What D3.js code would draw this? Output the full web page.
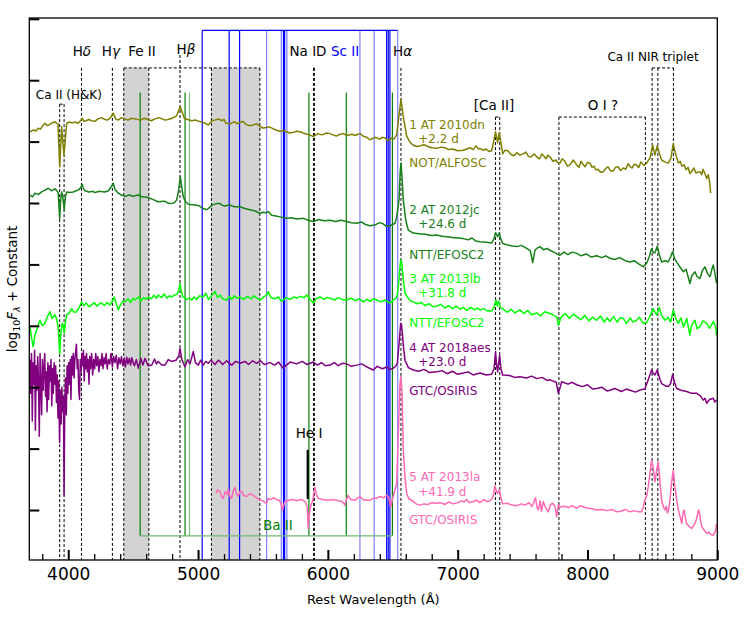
<!DOCTYPE html>
<html>
<head>
<meta charset="utf-8">
<script src="https://cdn.jsdelivr.net/npm/d3@7"></script>
<style>
  body { margin: 0; background: #fff; }
  svg text { font-family: "DejaVu Sans", sans-serif; }
</style>
</head>
<body>
<svg id="chart" width="747" height="623"></svg>
<script>

// spectra: [rest wavelength (A), log10 F + constant]
var spec_2010dn = [[3705,6.16],[3720,6.18],[3736,6.19],[3750,6.17],[3769,6.22],[3785,6.20],[3797,6.24],[3808,6.27],[3820,6.30],[3840,6.26],[3859,6.28],[3878,6.31],[3898,6.32],[3910,6.30],[3921,6.29],[3934,5.59],[3949,6.24],[3967,5.78],[3988,6.30],[4013,6.32],[4030,6.30],[4052,6.32],[4075,6.30],[4090,6.33],[4108,6.38],[4120,6.33],[4136,6.34],[4160,6.36],[4180,6.34],[4205,6.33],[4229,6.37],[4255,6.39],[4283,6.36],[4300,6.35],[4321,6.38],[4347,6.46],[4365,6.37],[4385,6.35],[4410,6.39],[4437,6.37],[4460,6.35],[4488,6.38],[4520,6.37],[4552,6.35],[4585,6.38],[4616,6.36],[4640,6.34],[4668,6.37],[4700,6.39],[4745,6.35],[4770,6.36],[4799,6.38],[4835,6.42],[4863,6.57],[4894,6.38],[4920,6.36],[4951,6.34],[4984,6.35],[5005,6.33],[5028,6.32],[5053,6.30],[5079,6.27],[5107,6.34],[5130,6.35],[5156,6.37],[5184,6.34],[5200,6.36],[5215,6.30],[5246,6.29],[5265,6.31],[5284,6.32],[5300,6.29],[5323,6.31],[5345,6.33],[5369,6.28],[5395,6.26],[5423,6.27],[5450,6.29],[5477,6.25],[5500,6.22],[5528,6.23],[5550,6.24],[5577,6.21],[5600,6.19],[5631,6.17],[5655,6.18],[5683,6.16],[5705,6.14],[5731,6.15],[5760,6.17],[5785,6.16],[5810,6.14],[5839,6.12],[5860,6.11],[5887,6.08],[5924,6.13],[5955,6.11],[5991,6.14],[6015,6.13],[6039,6.11],[6065,6.09],[6093,6.12],[6120,6.13],[6145,6.10],[6186,6.12],[6210,6.10],[6232,6.12],[6250,6.13],[6270,6.09],[6300,6.07],[6324,6.03],[6345,6.05],[6363,6.07],[6401,6.04],[6420,6.07],[6440,6.06],[6460,6.02],[6478,6.03],[6490,6.06],[6509,6.04],[6530,6.11],[6548,6.43],[6563,6.69],[6581,6.41],[6607,6.09],[6632,5.99],[6658,5.94],[6685,5.92],[6709,5.93],[6740,5.95],[6771,5.92],[6800,5.90],[6838,5.89],[6870,5.91],[6902,5.90],[6930,5.87],[6963,5.88],[7000,5.85],[7043,5.86],[7070,5.88],[7094,5.90],[7120,5.87],[7141,5.93],[7160,5.88],[7172,5.89],[7195,5.86],[7218,5.88],[7240,5.84],[7262,5.85],[7292,6.16],[7308,5.98],[7320,6.15],[7347,5.80],[7365,5.86],[7387,5.85],[7410,5.79],[7434,5.77],[7455,5.82],[7480,5.78],[7505,5.80],[7526,5.83],[7545,5.76],[7565,5.75],[7590,5.80],[7609,5.75],[7630,5.72],[7649,5.80],[7665,5.76],[7680,5.72],[7695,5.78],[7711,5.75],[7735,5.68],[7757,5.70],[7770,5.66],[7788,5.65],[7805,5.72],[7826,5.68],[7845,5.60],[7865,5.62],[7890,5.70],[7917,5.62],[7935,5.58],[7950,5.68],[7965,5.63],[7981,5.59],[8000,5.66],[8019,5.65],[8035,5.58],[8050,5.60],[8065,5.54],[8081,5.55],[8100,5.50],[8122,5.51],[8140,5.56],[8158,5.59],[8175,5.53],[8196,5.52],[8215,5.58],[8235,5.59],[8255,5.53],[8276,5.57],[8295,5.55],[8312,5.64],[8330,5.59],[8343,5.57],[8360,5.63],[8379,5.62],[8395,5.58],[8412,5.67],[8435,5.61],[8456,5.65],[8470,5.70],[8481,5.73],[8502,5.94],[8520,5.78],[8537,5.93],[8555,5.80],[8571,5.70],[8597,5.67],[8622,5.65],[8643,5.73],[8661,5.97],[8672,5.85],[8682,5.78],[8700,5.65],[8715,5.68],[8728,5.60],[8745,5.62],[8759,5.54],[8775,5.58],[8789,5.48],[8805,5.52],[8820,5.57],[8835,5.49],[8851,5.50],[8867,5.51],[8880,5.46],[8890,5.55],[8905,5.48],[8918,5.40],[8931,5.46],[8940,5.35],[8949,5.16]];

var spec_2012jc = [[3705,5.13],[3725,5.10],[3743,5.16],[3770,5.14],[3795,5.18],[3820,5.21],[3846,5.24],[3870,5.20],[3898,5.23],[3912,5.20],[3923,5.16],[3934,4.75],[3942,5.05],[3949,5.18],[3958,5.10],[3969,4.89],[3978,5.10],[3988,5.18],[4010,5.17],[4039,5.18],[4060,5.20],[4077,5.21],[4095,5.25],[4108,5.30],[4118,5.23],[4129,5.20],[4160,5.18],[4190,5.19],[4206,5.17],[4240,5.19],[4283,5.18],[4310,5.20],[4330,5.26],[4347,5.32],[4360,5.22],[4385,5.16],[4410,5.13],[4437,5.11],[4470,5.13],[4500,5.11],[4539,5.13],[4570,5.10],[4616,5.09],[4650,5.06],[4693,5.02],[4740,5.03],[4770,5.00],[4797,4.99],[4820,5.01],[4835,5.05],[4850,5.20],[4863,5.43],[4875,5.25],[4886,5.10],[4905,5.02],[4925,4.98],[4960,4.97],[5002,4.96],[5040,4.91],[5066,4.89],[5090,4.93],[5110,4.97],[5143,4.99],[5169,4.99],[5190,4.96],[5207,4.95],[5240,4.97],[5280,4.94],[5323,4.94],[5360,4.91],[5400,4.89],[5440,4.87],[5477,4.83],[5500,4.85],[5525,4.84],[5541,4.86],[5567,4.80],[5600,4.79],[5640,4.77],[5683,4.75],[5720,4.76],[5760,4.74],[5810,4.75],[5850,4.72],[5888,4.70],[5930,4.73],[5970,4.71],[6016,4.72],[6060,4.70],[6100,4.72],[6145,4.70],[6180,4.68],[6222,4.67],[6260,4.69],[6290,4.65],[6324,4.63],[6360,4.64],[6400,4.68],[6427,4.66],[6450,4.62],[6478,4.63],[6500,4.65],[6517,4.67],[6530,4.77],[6548,5.05],[6557,5.50],[6563,5.65],[6570,5.46],[6581,5.05],[6600,4.72],[6619,4.56],[6658,4.51],[6700,4.50],[6750,4.49],[6800,4.47],[6838,4.48],[6880,4.46],[6920,4.45],[6960,4.44],[7000,4.43],[7043,4.42],[7080,4.40],[7110,4.43],[7140,4.38],[7172,4.37],[7220,4.36],[7262,4.35],[7280,4.42],[7292,4.52],[7308,4.45],[7320,4.51],[7335,4.40],[7347,4.34],[7380,4.32],[7420,4.30],[7454,4.29],[7490,4.31],[7532,4.26],[7560,4.22],[7578,4.03],[7595,4.23],[7615,4.27],[7634,4.29],[7660,4.24],[7690,4.26],[7711,4.23],[7740,4.20],[7765,4.17],[7788,4.15],[7820,4.20],[7850,4.16],[7880,4.20],[7917,4.18],[7950,4.14],[7990,4.17],[8030,4.12],[8071,4.14],[8110,4.11],[8140,4.14],[8173,4.10],[8210,4.08],[8250,4.11],[8290,4.06],[8327,4.04],[8360,4.06],[8400,4.00],[8430,3.96],[8456,4.02],[8475,4.12],[8494,4.26],[8508,4.19],[8520,4.19],[8537,4.29],[8555,4.15],[8571,4.04],[8600,4.06],[8622,4.04],[8640,4.12],[8656,4.21],[8670,4.10],[8692,4.02],[8715,3.95],[8738,3.88],[8760,3.92],[8775,3.80],[8789,3.69],[8805,3.82],[8828,3.88],[8845,3.80],[8867,3.77],[8885,3.90],[8905,3.96],[8925,3.85],[8944,3.80],[8958,3.92],[8969,3.99],[8982,3.85],[8995,3.69]];

var spec_2013lb = [[3705,2.99],[3718,2.80],[3730,2.66],[3744,2.85],[3757,2.93],[3770,3.02],[3782,3.09],[3800,3.00],[3820,3.04],[3840,3.15],[3859,3.23],[3875,3.12],[3898,3.18],[3912,3.10],[3923,2.96],[3934,2.55],[3944,2.90],[3954,3.04],[3962,3.00],[3969,2.88],[3978,3.05],[3988,3.18],[4005,3.20],[4026,3.28],[4045,3.22],[4065,3.23],[4085,3.30],[4103,3.39],[4120,3.33],[4140,3.37],[4160,3.31],[4180,3.34],[4200,3.38],[4220,3.32],[4240,3.36],[4257,3.37],[4280,3.33],[4300,3.38],[4321,3.34],[4340,3.40],[4354,3.47],[4370,3.36],[4385,3.26],[4400,3.33],[4420,3.40],[4437,3.39],[4460,3.44],[4480,3.38],[4500,3.45],[4514,3.42],[4540,3.47],[4560,3.40],[4580,3.46],[4600,3.43],[4616,3.47],[4640,3.44],[4660,3.50],[4680,3.45],[4693,3.50],[4720,3.46],[4740,3.52],[4760,3.45],[4780,3.49],[4797,3.47],[4820,3.50],[4840,3.52],[4852,3.58],[4861,3.69],[4872,3.55],[4884,3.47],[4894,3.47],[4910,3.43],[4930,3.45],[4951,3.42],[4970,3.47],[4990,3.43],[5010,3.49],[5040,3.47],[5060,3.53],[5080,3.43],[5100,3.48],[5130,3.56],[5150,3.46],[5170,3.50],[5190,3.44],[5220,3.42],[5240,3.48],[5260,3.43],[5280,3.49],[5300,3.45],[5323,3.47],[5350,3.43],[5380,3.48],[5410,3.44],[5430,3.49],[5451,3.45],[5480,3.42],[5510,3.48],[5530,3.50],[5541,3.56],[5560,3.46],[5590,3.44],[5620,3.47],[5640,3.40],[5656,3.42],[5680,3.46],[5710,3.43],[5740,3.47],[5760,3.45],[5790,3.48],[5815,3.46],[5837,3.50],[5860,3.44],[5888,3.37],[5910,3.44],[5940,3.47],[5970,3.43],[5990,3.46],[6016,3.45],[6050,3.42],[6080,3.46],[6110,3.43],[6145,3.42],[6180,3.45],[6210,3.41],[6240,3.44],[6273,3.39],[6300,3.43],[6330,3.40],[6350,3.44],[6376,3.42],[6410,3.39],[6440,3.42],[6478,3.37],[6500,3.41],[6525,3.45],[6535,3.50],[6545,3.69],[6555,3.95],[6561,4.07],[6568,4.04],[6575,3.90],[6581,3.75],[6594,3.53],[6619,3.45],[6640,3.40],[6658,3.39],[6690,3.36],[6720,3.38],[6750,3.33],[6780,3.36],[6810,3.31],[6838,3.32],[6870,3.35],[6900,3.29],[6930,3.33],[6960,3.28],[6990,3.32],[7020,3.27],[7043,3.30],[7070,3.25],[7100,3.30],[7130,3.26],[7150,3.29],[7172,3.26],[7200,3.28],[7230,3.24],[7262,3.24],[7280,3.30],[7295,3.42],[7305,3.32],[7315,3.40],[7330,3.30],[7347,3.28],[7380,3.22],[7410,3.27],[7440,3.21],[7480,3.26],[7510,3.20],[7540,3.25],[7570,3.18],[7609,3.21],[7640,3.16],[7670,3.23],[7711,3.20],[7740,3.17],[7765,3.14],[7775,3.01],[7790,3.10],[7801,3.15],[7830,3.20],[7860,3.12],[7890,3.19],[7917,3.15],[7950,3.10],[7980,3.17],[8010,3.08],[8040,3.14],[8071,3.09],[8100,3.16],[8130,3.06],[8150,3.13],[8173,3.07],[8200,3.15],[8230,3.06],[8250,3.13],[8276,3.12],[8300,3.04],[8330,3.13],[8350,3.06],[8379,3.09],[8400,3.14],[8430,3.04],[8456,3.05],[8480,3.15],[8506,3.28],[8520,3.22],[8533,3.18],[8553,3.30],[8570,3.17],[8597,3.09],[8620,3.14],[8640,3.06],[8661,3.26],[8680,3.12],[8700,3.04],[8720,3.13],[8740,2.98],[8764,3.12],[8780,2.95],[8789,2.85],[8800,3.00],[8828,3.09],[8845,2.95],[8867,2.99],[8890,3.08],[8918,3.04],[8940,2.96],[8969,3.07],[8985,3.00],[8995,2.85]];

var spec_2018aes = [[3705,2.45],[3711,1.90],[3717,2.55],[3723,1.45],[3729,2.40],[3735,2.05],[3741,2.60],[3747,1.30],[3753,2.35],[3759,1.95],[3765,2.50],[3771,2.10],[3777,1.20],[3783,2.55],[3789,2.00],[3795,1.55],[3801,2.45],[3807,1.95],[3813,2.30],[3819,2.55],[3825,1.85],[3831,2.25],[3837,1.60],[3843,2.40],[3849,1.80],[3855,2.35],[3861,2.10],[3867,2.45],[3873,1.70],[3879,2.30],[3885,1.90],[3891,2.40],[3897,2.05],[3903,2.35],[3909,1.75],[3915,2.20],[3921,1.50],[3927,2.10],[3933,1.10],[3939,1.95],[3945,1.40],[3951,2.00],[3957,1.60],[3963,1.85],[3968,0.24],[3973,1.70],[3979,2.15],[3985,1.55],[3991,2.35],[3997,1.90],[4003,2.40],[4009,2.05],[4015,2.45],[4021,1.80],[4027,2.50],[4033,2.20],[4039,2.55],[4045,2.15],[4051,2.45],[4063,2.70],[4069,2.30],[4075,2.45],[4081,1.95],[4087,1.80],[4093,2.45],[4099,2.25],[4105,2.55],[4111,2.35],[4117,2.60],[4123,2.10],[4129,2.50],[4135,2.30],[4141,2.55],[4147,2.25],[4153,2.45],[4160,2.05],[4166,2.50],[4172,2.30],[4180,2.55],[4188,2.20],[4196,2.45],[4204,2.30],[4212,2.55],[4220,2.35],[4228,2.50],[4236,2.25],[4244,2.45],[4252,2.35],[4260,2.55],[4268,2.30],[4276,2.48],[4284,2.38],[4292,2.55],[4300,2.30],[4310,2.45],[4320,2.38],[4330,2.55],[4340,2.33],[4350,2.50],[4360,2.40],[4370,2.52],[4380,2.30],[4390,2.48],[4400,2.38],[4410,2.50],[4420,2.35],[4430,2.47],[4440,2.33],[4450,2.49],[4460,2.38],[4470,2.47],[4480,2.36],[4490,2.48],[4500,2.40],[4510,2.35],[4525,2.45],[4539,2.31],[4560,2.47],[4575,2.36],[4591,2.47],[4615,2.35],[4643,2.36],[4665,2.46],[4680,2.38],[4693,2.42],[4720,2.36],[4745,2.36],[4770,2.45],[4797,2.42],[4830,2.44],[4850,2.50],[4861,2.63],[4875,2.45],[4899,2.33],[4920,2.45],[4938,2.38],[4963,2.58],[4980,2.40],[5002,2.36],[5020,2.44],[5040,2.36],[5060,2.42],[5079,2.39],[5100,2.44],[5130,2.37],[5156,2.44],[5169,2.42],[5190,2.37],[5220,2.43],[5259,2.36],[5290,2.42],[5323,2.39],[5361,2.42],[5390,2.37],[5420,2.43],[5451,2.39],[5480,2.43],[5510,2.37],[5554,2.40],[5590,2.36],[5620,2.41],[5656,2.31],[5680,2.36],[5710,2.41],[5760,2.38],[5800,2.42],[5840,2.37],[5888,2.41],[5920,2.36],[5950,2.40],[5980,2.35],[6016,2.36],[6050,2.40],[6080,2.35],[6110,2.39],[6145,2.38],[6180,2.34],[6222,2.36],[6260,2.38],[6300,2.33],[6350,2.28],[6380,2.34],[6420,2.30],[6453,2.33],[6480,2.29],[6504,2.31],[6525,2.35],[6535,2.39],[6548,2.70],[6561,3.04],[6568,3.01],[6575,2.85],[6581,2.69],[6594,2.44],[6620,2.32],[6658,2.28],[6700,2.26],[6740,2.29],[6780,2.24],[6838,2.25],[6880,2.27],[6920,2.22],[6960,2.26],[7000,2.21],[7043,2.23],[7080,2.25],[7120,2.20],[7172,2.23],[7220,2.20],[7262,2.21],[7280,2.30],[7292,2.58],[7300,2.35],[7308,2.25],[7316,2.40],[7323,2.52],[7333,2.30],[7347,2.20],[7400,2.19],[7440,2.16],[7480,2.17],[7530,2.15],[7570,2.18],[7609,2.14],[7650,2.16],[7690,2.11],[7711,2.12],[7760,2.08],[7775,1.90],[7790,2.00],[7801,2.09],[7850,2.05],[7880,2.08],[7917,2.04],[7960,2.01],[8000,2.04],[8040,1.97],[8071,1.98],[8110,2.00],[8150,1.94],[8173,1.95],[8210,1.98],[8260,1.93],[8300,1.97],[8327,1.95],[8370,1.92],[8410,1.96],[8442,1.97],[8468,2.12],[8494,2.28],[8508,2.22],[8520,2.20],[8537,2.28],[8555,2.15],[8571,2.06],[8600,2.02],[8622,2.01],[8640,2.06],[8656,2.21],[8670,2.08],[8687,1.98],[8720,1.95],[8764,1.93],[8800,1.90],[8841,1.90],[8870,1.86],[8892,1.79],[8905,1.82],[8918,1.74],[8940,1.80],[8969,1.82],[8980,1.76],[8995,1.79]];

var spec_2013la = [[5138,0.27],[5150,0.33],[5169,0.30],[5180,0.22],[5194,0.19],[5210,0.30],[5225,0.25],[5233,0.34],[5245,0.22],[5259,0.19],[5270,0.30],[5284,0.37],[5295,0.26],[5310,0.22],[5322,0.30],[5336,0.30],[5350,0.24],[5374,0.22],[5400,0.27],[5425,0.24],[5450,0.20],[5477,0.16],[5500,0.15],[5515,0.12],[5528,0.11],[5541,0.19],[5560,0.17],[5580,0.20],[5606,0.17],[5625,0.16],[5640,0.10],[5652,0.00],[5660,0.08],[5670,0.14],[5700,0.16],[5733,0.17],[5760,0.15],[5790,0.17],[5810,0.16],[5830,0.12],[5840,0.06],[5849,-0.30],[5856,-0.10],[5862,0.00],[5872,0.10],[5883,0.14],[5893,0.30],[5901,0.37],[5912,0.25],[5926,0.19],[5960,0.17],[6000,0.16],[6042,0.17],[6080,0.15],[6110,0.14],[6132,0.08],[6145,0.18],[6157,0.24],[6175,0.17],[6210,0.16],[6247,0.22],[6270,0.17],[6299,0.16],[6324,0.16],[6350,0.19],[6376,0.19],[6401,0.22],[6430,0.20],[6453,0.24],[6470,0.20],[6484,0.05],[6500,0.20],[6520,0.35],[6530,0.43],[6543,1.25],[6555,2.04],[6563,2.18],[6572,1.87],[6581,0.98],[6594,0.54],[6607,0.27],[6625,0.18],[6646,0.16],[6680,0.10],[6709,0.08],[6740,0.10],[6770,0.09],[6800,0.12],[6838,0.11],[6870,0.12],[6900,0.09],[6930,0.13],[6966,0.10],[7000,0.12],[7030,0.15],[7050,0.13],[7069,0.17],[7090,0.12],[7120,0.14],[7146,0.16],[7170,0.12],[7200,0.17],[7223,0.14],[7250,0.15],[7270,0.20],[7287,0.39],[7300,0.30],[7308,0.27],[7320,0.33],[7333,0.20],[7347,0.10],[7380,0.11],[7420,0.08],[7454,0.07],[7490,0.10],[7520,0.08],[7550,0.12],[7570,0.06],[7583,0.11],[7600,0.20],[7610,0.05],[7621,0.00],[7635,0.15],[7645,-0.02],[7659,0.14],[7675,0.05],[7698,-0.03],[7715,0.09],[7732,0.11],[7750,0.05],[7763,-0.11],[7775,0.08],[7788,0.05],[7820,0.06],[7850,0.04],[7880,0.07],[7917,0.03],[7948,0.07],[7970,0.05],[8000,0.03],[8040,0.02],[8071,0.00],[8110,0.01],[8150,-0.01],[8190,0.01],[8225,-0.03],[8260,-0.02],[8290,0.01],[8327,-0.03],[8360,-0.01],[8390,-0.03],[8417,-0.03],[8430,0.05],[8442,0.16],[8455,0.22],[8468,0.38],[8481,0.60],[8494,0.81],[8505,0.70],[8520,0.46],[8533,0.65],[8545,0.79],[8555,0.55],[8571,0.16],[8585,0.05],[8597,0.00],[8607,0.06],[8615,-0.05],[8625,0.00],[8635,0.16],[8648,0.45],[8661,0.65],[8672,0.40],[8687,0.16],[8700,0.00],[8715,-0.12],[8726,-0.22],[8736,-0.05],[8744,0.00],[8754,-0.12],[8764,-0.22],[8780,-0.26],[8802,-0.30],[8820,-0.25],[8840,-0.15],[8855,0.00],[8861,-0.03],[8870,-0.15],[8880,-0.27],[8900,-0.33],[8918,-0.38],[8935,-0.36],[8950,-0.40],[8969,-0.41],[8985,-0.35],[8995,-0.22]];

var spectra = [spec_2010dn, spec_2012jc, spec_2013lb, spec_2018aes, spec_2013la];
var spec_names = ['1 AT 2010dn', '2 AT 2012jc', '3 AT 2013lb', '4 AT 2018aes', '5 AT 2013la'];
var spec_epochs = ['+2.2 d', '+24.6 d', '+31.8 d', '+23.0 d', '+41.9 d'];
var spec_instruments = ['NOT/ALFOSC', 'NTT/EFOSC2', 'NTT/EFOSC2', 'GTC/OSIRIS', 'GTC/OSIRIS'];

// line identifications (rest wavelengths, A)
var ca_hk = [3934, 3968];
var h_delta = 4102, h_gamma = 4340, h_beta = 4861, h_alpha = 6563;
var fe2_bands = [[4428, 4621], [5103, 5476]];
var na_id = [5890, 5896];
var ca2_forbidden = [7291, 7324];
var o1_pair = [7780, 8446];
var ca2_nir = [8498, 8542, 8662];
var sc2_strong = [5032, 5240, 5320, 5658, 5667, 6453, 6465, 6478];
var sc2_weak = [5528, 5641, 5684, 6247, 6357, 6538];
var ba2_strong = [4554, 4900, 5854, 6142, 6497];
var ba2_weak = [4934];
var he1 = 5845;

var x_major = [4000, 5000, 6000, 7000, 8000, 9000];

// ---------------------------------------------------------------
var colors = ['#808000', '#17801a', '#00ff00', '#800080', '#ff69b4'];
var label_rows = [[6.20, 5.97, 5.59], [4.815, 4.585, 4.09], [3.705, 3.475, 2.98], [2.58, 2.35, 1.88], [0.47, 0.23, -0.23]];

var svg = d3.select('#chart');
var plot_left = 29.3, plot_right = 717.3, plot_top = 18, plot_bottom = 560;

var x = d3.scaleLinear().domain([3700, 9000]).range([plot_left, plot_right]);
var y = d3.scaleLinear().domain([-0.814, 8.013]).range([plot_bottom, plot_top]);
var y_min = y.domain()[0];

svg.append('defs').append('clipPath').attr('id', 'plot_clip')
  .append('rect')
  .attr('x', plot_left).attr('y', plot_top)
  .attr('width', plot_right - plot_left).attr('height', plot_bottom - plot_top);

var guides = svg.append('g').attr('clip-path', 'url(#plot_clip)');

function vline(g, w, top, bottom, color, width, dash) {
  g.append('line')
    .attr('x1', x(w)).attr('x2', x(w))
    .attr('y1', y(top)).attr('y2', y(bottom))
    .attr('stroke', color).attr('stroke-width', width)
    .attr('stroke-dasharray', dash || null);
}
function hline(g, w1, w2, v, color, width, dash) {
  g.append('line')
    .attr('x1', x(w1)).attr('x2', x(w2))
    .attr('y1', y(v)).attr('y2', y(v))
    .attr('stroke', color).attr('stroke-width', width)
    .attr('stroke-dasharray', dash || null);
}

// Fe II grey bands
fe2_bands.forEach(function(b){
  guides.append('rect')
    .attr('x', x(b[0])).attr('width', x(b[1]) - x(b[0]))
    .attr('y', y(7.20)).attr('height', y(y_min) - y(7.20))
    .attr('fill', '#d3d3d3');
});

// dashed identifications
var dash = '3,2';
var brackets = [
  {lines: ca_hk, top: 6.61},
  {lines: [fe2_bands[0][0], fe2_bands[0][1], fe2_bands[1][0], fe2_bands[1][1]], top: 7.20},
  {lines: na_id, top: 7.20},
  {lines: ca2_forbidden, top: 6.40},
  {lines: o1_pair, top: 6.40},
  {lines: ca2_nir, top: 7.20}
];
brackets.forEach(function(b){
  b.lines.forEach(function(w){ vline(guides, w, b.top, y_min, '#000', 1, dash); });
  hline(guides, d3.min(b.lines), d3.max(b.lines), b.top, '#000', 1, dash);
});
[[h_delta, 7.20], [h_gamma, 7.20], [h_beta, 7.41], [h_alpha, 7.20]].forEach(function(d){
  vline(guides, d[0], d[1], y_min, '#000', 1, dash);
});

// Sc II
sc2_weak.forEach(function(w){ vline(guides, w, 7.81, y_min, '#8080ff', 1.2); });
sc2_strong.forEach(function(w){ vline(guides, w, 7.81, y_min, '#0000ff', 1.2); });
var sc2_all = sc2_strong.concat(sc2_weak);
hline(guides, d3.min(sc2_all), d3.max(sc2_all), 7.81, '#0000ff', 1.2);

// Ba II
var ba2_all = ba2_strong.concat(ba2_weak);
ba2_weak.forEach(function(w){ vline(guides, w, 6.80, -0.42, '#80c080', 1.2); });
ba2_strong.forEach(function(w){ vline(guides, w, 6.80, -0.42, '#008000', 1.2); });
hline(guides, d3.min(ba2_all), d3.max(ba2_all), -0.42, '#6fb86f', 1.2);

// He I
vline(guides, he1, 0.98, 0.18, '#000', 2.2);

// spectra
var line = d3.line().x(function(d){ return x(d[0]); }).y(function(d){ return y(d[1]); });
var spec_g = svg.append('g').attr('clip-path', 'url(#plot_clip)');
spectra.forEach(function(s, i){
  spec_g.append('path')
    .attr('d', line(s))
    .attr('fill', 'none')
    .attr('stroke', colors[i])
    .attr('stroke-width', 1.5)
    .attr('stroke-linejoin', 'round');
});

// axes
var x_axis = d3.axisBottom(x).tickValues(x_major).tickSize(-10).tickPadding(8).tickFormat(d3.format('d'));
var x_minor = d3.axisBottom(x)
  .tickValues(d3.range(3800, 9000, 200).filter(function(v){ return v % 1000 !== 0; }))
  .tickSize(-6).tickFormat('');
var y_axis = d3.axisLeft(y).tickValues(d3.range(0, 9)).tickSize(-10).tickFormat('');

svg.append('g').attr('transform', 'translate(0,' + plot_bottom + ')').call(x_minor)
  .call(function(g){ g.select('.domain').remove(); g.selectAll('line').attr('stroke-width', 1.3); });
svg.append('g').attr('transform', 'translate(0,' + plot_bottom + ')').call(x_axis)
  .attr('font-family', null).attr('font-size', null)
  .call(function(g){
    g.select('.domain').remove();
    g.selectAll('line').attr('stroke-width', 2);
    g.selectAll('text').style('font-size', '17px').attr('fill', '#000');
  });
svg.append('g').attr('transform', 'translate(' + plot_left + ',0)').call(y_axis)
  .call(function(g){ g.select('.domain').remove(); g.selectAll('line').attr('stroke-width', 2); });

svg.append('rect')
  .attr('x', plot_left).attr('y', plot_top)
  .attr('width', plot_right - plot_left).attr('height', plot_bottom - plot_top)
  .attr('fill', 'none').attr('stroke', '#000').attr('stroke-width', 1.3);

// axis titles
svg.append('text')
  .attr('x', (plot_left + plot_right) / 2).attr('y', 604)
  .attr('text-anchor', 'middle').style('font-size', '13px')
  .text('Rest Wavelength (\u00c5)');

var ylab = svg.append('text')
  .attr('transform', 'translate(17,' + (plot_top + plot_bottom) / 2 + ') rotate(-90)')
  .attr('text-anchor', 'middle').style('font-size', '13.5px');
ylab.append('tspan').text('log');
ylab.append('tspan').attr('dy', 3).style('font-size', '9.5px').text('10');
ylab.append('tspan').attr('dy', -3).style('font-style', 'italic').text('F');
ylab.append('tspan').attr('dy', 3).style('font-size', '9.5px').style('font-style', 'italic').text('\u03bb');
ylab.append('tspan').attr('dy', -3).text(' + Constant');

// line labels
var line_labels = [
  {t: 'Ca II (H&K)', w: 4005, v: 6.70, size: 12},
  {t: 'H', g: '\u03b4', w: 4105, v: 7.40},
  {t: 'H', g: '\u03b3', w: 4329, v: 7.40},
  {t: 'Fe II', w: 4568, v: 7.40},
  {t: 'H', g: '\u03b2', w: 4907, v: 7.43},
  {t: 'Na ID', w: 5847, v: 7.40},
  {t: 'Sc II', w: 6132, v: 7.40, color: '#0000ff'},
  {t: 'H', g: '\u03b1', w: 6575, v: 7.40},
  {t: '[Ca II]', w: 7280, v: 6.51},
  {t: 'O I ?', w: 8119, v: 6.51},
  {t: 'Ca II NIR triplet', w: 8505, v: 7.31, size: 12},
  {t: 'He I', w: 5855, v: 1.18},
  {t: 'Ba II', w: 5615, v: -0.33, color: '#008000'}
];
line_labels.forEach(function(l){
  var t = svg.append('text')
    .attr('x', x(l.w)).attr('y', y(l.v))
    .attr('text-anchor', 'middle')
    .style('font-size', (l.size || 13.5) + 'px')
    .attr('fill', l.color || '#000');
  t.append('tspan').text(l.t);
  if (l.g) t.append('tspan').style('font-style', 'italic').text(l.g);
});

// spectrum labels
spectra.forEach(function(s, i){
  var rows = [spec_names[i], spec_epochs[i], spec_instruments[i]];
  rows.forEach(function(txt, j){
    svg.append('text')
      .attr('x', x(j === 1 ? 6696 : 6627))
      .attr('y', y(label_rows[i][j]))
      .style('font-size', '12px')
      .attr('fill', colors[i])
      .text(txt);
  });
});

</script>
</body>
</html>
